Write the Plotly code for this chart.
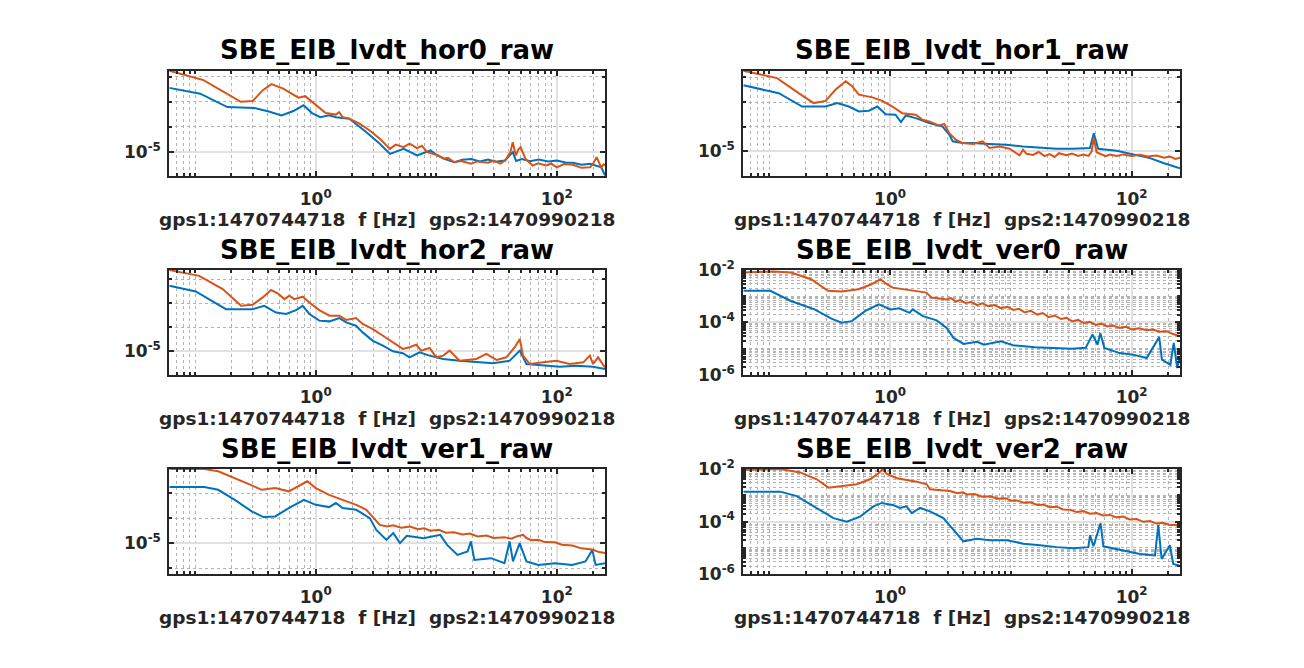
import plotly.graph_objects as go

BLUE = "#0072BD"
ORANGE = "#D95319"
FONT = "DejaVu Sans"

panel_titles = ["SBE_EIB_lvdt_hor0_raw", "SBE_EIB_lvdt_hor1_raw",
                "SBE_EIB_lvdt_hor2_raw", "SBE_EIB_lvdt_ver0_raw",
                "SBE_EIB_lvdt_ver1_raw", "SBE_EIB_lvdt_ver2_raw"]
xlabel_text = "gps1:1470744718\u00a0\u00a0f [Hz]\u00a0\u00a0gps2:1470990218"

x_tick_vals = [1, 100]
x_tick_text = ["10<sup>0</sup>", "10<sup>2</sup>"]
y_tick_vals_hor = [1e-5]
y_tick_text_hor = ["10<sup>-5</sup>"]
y_tick_vals_ver = [1e-6, 1e-4, 1e-2]
y_tick_text_ver = ["10<sup>-6</sup>", "10<sup>-4</sup>", "10<sup>-2</sup>"]

# ---------------- hor0 ----------------
hor0_f_blue = [0.061, 0.110, 0.185, 0.310, 0.401, 0.520, 0.652, 0.793, 0.931, 1.09, 1.29, 1.47, 1.90,
               2.62, 3.40, 4.13, 5.36, 6.93, 8.97, 10.2, 12.0, 14.1, 16.5, 19.5, 23.0, 26.9, 31.0,
               37.2, 43.1, 46.0, 51.3, 60.0, 70.8, 85.0, 100, 118, 136, 160, 189, 215, 234, 251]
hor0_psd_blue = [3.55e-3, 2.09e-3, 6.17e-4, 5.62e-4, 4.17e-4, 2.88e-4, 4.27e-4, 7.24e-4, 3.55e-4, 2.45e-4,
                 2.88e-4, 2.45e-4, 2.14e-4, 6.31e-5, 2.14e-5, 8.51e-6, 1.35e-5, 7.41e-6, 1.17e-5, 7.41e-6,
                 5.2e-6, 3.98e-6, 5.0e-6, 5.37e-6, 4.3e-6, 5.13e-6, 4.2e-6, 4.68e-6, 1.0e-5, 4.5e-6,
                 5.37e-6, 4.4e-6, 5.13e-6, 4.3e-6, 4.68e-6, 3.9e-6, 3.80e-6, 3.2e-6, 3.47e-6, 2.8e-6,
                 2.5e-6, 1.2e-6]
hor0_f_orange = [0.061, 0.117, 0.239, 0.300, 0.364, 0.429, 0.537, 0.719, 0.818, 0.931, 1.21, 1.47, 1.56,
                 1.67, 1.90, 2.31, 2.80, 3.40, 4.13, 4.6, 5.36, 6.0, 6.93, 7.6, 8.41, 10.2, 11.5, 12.5,
                 14.1, 16.0, 19.5, 22.0, 26.9, 30.0, 34.0, 37.2, 39.0, 41.2, 43.1, 45.7, 48.0, 50.1, 55.0,
                 63.1, 70.0, 81.3, 90.0, 100, 115, 136, 160, 189, 200, 214, 234, 245, 251]
hor0_psd_orange = [1.70e-2, 7.24e-3, 1.0e-3, 1.07e-3, 2.88e-3, 5.01e-3, 3.31e-3, 1.45e-3, 1.66e-3, 1.0e-3,
                   3.55e-4, 3.09e-4, 3.89e-4, 2.45e-4, 2.14e-4, 1.35e-4, 7.24e-5, 3.39e-5, 1.35e-5, 2.0e-5,
                   1.58e-5, 2.2e-5, 1.45e-5, 1.8e-5, 1.0e-5, 7.76e-6, 5.5e-6, 6.0e-6, 3.98e-6, 4.5e-6,
                   3.47e-6, 4.3e-6, 3.80e-6, 4.6e-6, 3.5e-6, 4.68e-6, 6.5e-6, 1.0e-5, 2.51e-5, 7.41e-6,
                   1.3e-5, 1.58e-5, 5.37e-6, 2.95e-6, 3.6e-6, 2.95e-6, 3.5e-6, 2.51e-6, 3.4e-6, 3.16e-6,
                   2.4e-6, 2.51e-6, 3.5e-6, 6.31e-6, 2.51e-6, 3.3e-6, 2.95e-6]

# ---------------- hor1 ----------------
hor1_f_blue = [0.061, 0.120, 0.187, 0.292, 0.365, 0.456, 0.552, 0.668, 0.785, 0.920, 1.11, 1.23, 1.35,
               1.63, 2.11, 2.72, 3.09, 3.30, 3.99, 4.83, 6.65, 9.14, 12.6, 17.3, 23.8, 32.7, 45.1, 48.6,
               52.8, 75.0, 103, 142, 183, 251]
hor1_psd_blue = [4.79e-3, 2.29e-3, 6.61e-4, 6.61e-4, 9.12e-4, 6.61e-4, 4.17e-4, 4.47e-4, 6.61e-4, 3.24e-4,
                 3.09e-4, 1.55e-4, 2.88e-4, 2.24e-4, 1.41e-4, 1.02e-4, 4.79e-5, 2.57e-5, 2.19e-5, 2.19e-5,
                 2.0e-5, 1.86e-5, 1.58e-5, 1.45e-5, 1.29e-5, 1.29e-5, 1.38e-5, 5.50e-5, 1.29e-5, 1.07e-5,
                 7.76e-6, 5.37e-6, 3.39e-6, 2.09e-6]
hor1_f_orange = [0.061, 0.116, 0.175, 0.233, 0.292, 0.353, 0.429, 0.486, 0.552, 0.713, 0.863, 1.045, 1.26,
                 1.44, 1.63, 1.86, 2.11, 2.55, 2.81, 3.09, 3.52, 3.99, 4.83, 5.85, 6.65, 8.05, 9.75, 11.8,
                 12.6, 13.5, 15.2, 17.0, 19.0, 20.9, 23.0, 25.0, 28.8, 32.0, 36.0, 39.8, 44.0, 46.6, 48.6,
                 51.2, 56.0, 61.0, 66.1, 75.0, 85.1, 100, 117, 135, 161, 185, 208, 230, 251]
hor1_psd_orange = [1.86e-2, 9.33e-3, 2.29e-3, 9.12e-4, 1.12e-3, 3.16e-3, 6.92e-3, 4.37e-3, 2.0e-3, 1.55e-3,
                   1.12e-3, 6.61e-4, 3.55e-4, 3.24e-4, 3.09e-4, 1.91e-4, 1.66e-4, 1.12e-4, 1.29e-4, 5.50e-5,
                   2.95e-5, 2.19e-5, 2.0e-5, 2.57e-5, 1.38e-5, 1.58e-5, 1.29e-5, 6.92e-6, 1.17e-5, 8.0e-6,
                   7.24e-6, 9.5e-6, 6.5e-6, 7.76e-6, 6.0e-6, 8.5e-6, 7.0e-6, 8.2e-6, 6.6e-6, 7.5e-6,
                   6.6e-6, 1.0e-5, 3.47e-5, 9.33e-6, 7.6e-6, 6.4e-6, 7.5e-6, 6.5e-6, 7.6e-6, 6.5e-6,
                   7.4e-6, 6.2e-6, 6.8e-6, 5.6e-6, 6.2e-6, 5.0e-6, 5.6e-6]

# ---------------- hor2 ----------------
hor2_f_blue = [0.061, 0.101, 0.180, 0.299, 0.374, 0.468, 0.566, 0.687, 0.780, 0.885, 1.07, 1.30, 1.57,
               1.79, 2.16, 2.45, 2.98, 3.61, 4.37, 5.28, 6.0, 7.26, 8.81, 11.4, 15.6, 21.5, 29.6, 40.7,
               49.3, 56.0, 76.9, 106, 146, 200, 251]
hor2_psd_blue = [5.50e-3, 3.16e-3, 5.75e-4, 5.75e-4, 7.94e-4, 4.17e-4, 3.63e-4, 5.25e-4, 7.94e-4, 3.63e-4,
                 1.91e-4, 1.78e-4, 2.45e-4, 1.62e-4, 1.17e-4, 6.17e-5, 2.75e-5, 1.74e-5, 1.0e-5, 8.32e-6,
                 5.62e-6, 9.12e-6, 6.61e-6, 4.79e-6, 4.07e-6, 3.47e-6, 3.16e-6, 4.07e-6, 1.07e-5, 2.95e-6,
                 2.51e-6, 2.29e-6, 2.51e-6, 2.29e-6, 1.82e-6]
hor2_f_orange = [0.061, 0.108, 0.169, 0.240, 0.299, 0.363, 0.426, 0.483, 0.550, 0.604, 0.665, 0.780, 0.885,
                 1.07, 1.30, 1.57, 1.79, 2.16, 2.45, 2.98, 3.61, 4.37, 5.28, 6.0, 6.82, 7.50, 8.81, 10.0,
                 11.4, 12.9, 15.6, 21.5, 26.0, 31.6, 38.2, 44.8, 49.3, 52.5, 59.7, 76.9, 99.3, 128, 166,
                 188, 200, 220, 251]
hor2_psd_orange = [2.45e-2, 1.41e-2, 3.98e-3, 7.94e-4, 8.71e-4, 1.78e-3, 3.63e-3, 2.63e-3, 1.51e-3, 2.09e-3,
                   1.51e-3, 1.91e-3, 1.10e-3, 5.25e-4, 3.09e-4, 3.09e-4, 2.04e-4, 2.45e-4, 1.38e-4, 8.51e-5,
                   4.47e-5, 2.34e-5, 1.26e-5, 1.48e-5, 1.91e-5, 1.07e-5, 1.38e-5, 5.62e-6, 6.61e-6, 1.07e-5,
                   4.07e-6, 4.79e-6, 7.76e-6, 4.37e-6, 5.62e-6, 1.48e-5, 3.24e-5, 6.61e-6, 2.95e-6, 3.47e-6,
                   4.07e-6, 2.95e-6, 3.47e-6, 6.61e-6, 2.95e-6, 5.62e-6, 2.14e-6]

# ---------------- ver0 ----------------
ver0_f_blue = [0.061, 0.102, 0.151, 0.237, 0.327, 0.397, 0.482, 0.624, 0.807, 1.01, 1.19, 1.45, 1.54,
               1.87, 2.43, 2.94, 3.35, 4.06, 5.26, 5.98, 8.28, 10.4, 15.8, 21.8, 32.1, 41.6, 47.4, 52.2,
               55.0, 59.4, 79.4, 103, 133, 169, 178, 209, 223, 238, 251]
ver0_psd_blue = [1.62e-3, 1.62e-3, 6.61e-4, 3.16e-4, 1.41e-4, 9.77e-5, 1.12e-4, 2.75e-4, 4.90e-4, 3.16e-4,
                 3.47e-4, 2.34e-4, 3.16e-4, 1.74e-4, 1.20e-4, 6.17e-5, 2.57e-5, 1.51e-5, 1.82e-5, 1.41e-5,
                 1.91e-5, 1.35e-5, 1.12e-5, 1.07e-5, 1.0e-5, 1.07e-5, 3.47e-5, 1.41e-5, 3.98e-5, 1.07e-5,
                 6.76e-6, 5.89e-6, 4.37e-6, 2.75e-5, 3.80e-6, 2.40e-6, 1.66e-5, 1.82e-6, 5.13e-6]
ver0_f_orange = [0.061, 0.109, 0.151, 0.222, 0.306, 0.397, 0.548, 0.687, 0.834, 0.920, 1.05, 1.45, 2.0,
                 2.20, 2.94, 3.2, 3.5, 3.81, 4.2, 4.7, 5.26, 5.8, 6.5, 7.3, 8.28, 9.3, 10.5, 11.7, 13.0,
                 14.6, 16.5, 18.4, 20.5, 23.0, 26.0, 29.0, 32.1, 36.0, 40.0, 45.0, 50.6, 56.0, 63.0, 70.0,
                 79.4, 90.0, 100, 115, 133, 150, 170, 196, 220, 251]
ver0_psd_orange = [8.13e-3, 8.91e-3, 8.13e-3, 4.47e-3, 1.62e-3, 1.51e-3, 1.86e-3, 2.75e-3, 4.47e-3, 3.09e-3,
                   2.14e-3, 1.70e-3, 1.38e-3, 8.91e-4, 7.59e-4, 8.5e-4, 6.3e-4, 7.2e-4, 5.6e-4, 6.0e-4,
                   4.6e-4, 5.4e-4, 4.2e-4, 4.6e-4, 3.5e-4, 4.0e-4, 3.0e-4, 3.3e-4, 2.4e-4, 2.8e-4,
                   2.0e-4, 2.3e-4, 1.6e-4, 1.85e-4, 1.35e-4, 1.5e-4, 1.1e-4, 1.25e-4, 9.5e-5, 1.05e-4,
                   8.0e-5, 9.0e-5, 7.0e-5, 7.6e-5, 6.2e-5, 6.8e-5, 5.4e-5, 6.0e-5, 5.0e-5, 5.4e-5,
                   4.4e-5, 4.6e-5, 3.6e-5, 2.95e-5]

# ---------------- ver1 ----------------
ver1_f_blue = [0.061, 0.119, 0.155, 0.213, 0.294, 0.368, 0.461, 0.597, 0.798, 1.0, 1.29, 1.47, 1.67,
               2.17, 2.81, 3.18, 3.86, 4.40, 5.0, 5.69, 7.85, 10.8, 12.3, 15.0, 18.2, 19.4, 20.7, 28.5,
               36.8, 40.6, 43.3, 49.2, 56.0, 70.1, 96.8, 134, 173, 197, 210, 251]
ver1_psd_blue = [1.74e-3, 1.74e-3, 1.35e-3, 5.37e-4, 1.86e-4, 1.10e-4, 1.17e-4, 2.51e-4, 5.37e-4, 3.39e-4,
                 2.75e-4, 3.98e-4, 2.51e-4, 2.14e-4, 1.0e-4, 3.39e-5, 1.35e-5, 2.51e-5, 1.0e-5, 1.95e-5,
                 1.58e-5, 2.14e-5, 8.51e-6, 3.39e-6, 4.68e-6, 1.17e-5, 2.14e-6, 2.51e-6, 1.58e-6, 1.17e-5,
                 1.86e-6, 1.0e-5, 1.86e-6, 1.35e-6, 1.58e-6, 1.35e-6, 1.86e-6, 5.37e-6, 1.35e-6, 1.58e-6]
ver1_f_orange = [0.061, 0.119, 0.155, 0.213, 0.276, 0.356, 0.461, 0.597, 0.724, 0.851, 1.0, 1.29, 1.67,
                 2.17, 2.63, 2.99, 3.40, 3.9, 4.40, 5.1, 6.07, 7.0, 8.0, 8.93, 10.5, 12.0, 14.0, 16.5,
                 19.0, 22.0, 26.0, 30.0, 36.8, 42.0, 47.0, 52.5, 56.0, 61.7, 70.0, 80.0, 96.8, 110, 134,
                 160, 197, 225, 251]
ver1_psd_orange = [9.12e-3, 9.12e-3, 7.41e-3, 3.98e-3, 2.34e-3, 1.35e-3, 1.58e-3, 1.17e-3, 1.86e-3, 2.95e-3,
                   1.58e-3, 8.51e-4, 5.37e-4, 3.39e-4, 2.14e-4, 1.10e-4, 5.37e-5, 4.6e-5, 5.2e-5, 4.1e-5,
                   4.6e-5, 3.6e-5, 3.9e-5, 3.1e-5, 3.4e-5, 2.6e-5, 2.7e-5, 2.2e-5, 2.4e-5, 1.85e-5,
                   2.0e-5, 1.6e-5, 1.7e-5, 1.5e-5, 1.9e-5, 2.14e-5, 1.6e-5, 1.3e-5, 1.35e-5, 1.1e-5,
                   1.08e-5, 8.6e-6, 8.0e-6, 6.2e-6, 5.6e-6, 4.4e-6, 4.0e-6]

# ---------------- ver2 ----------------
ver2_f_blue = [0.061, 0.123, 0.169, 0.247, 0.340, 0.438, 0.565, 0.728, 0.853, 1.07, 1.21, 1.37, 1.51,
               1.77, 2.14, 2.76, 3.34, 4.05, 5.21, 6.73, 9.25, 12.7, 17.4, 23.9, 32.9, 43.8, 45.2, 48.2,
               55.3, 58.3, 85.3, 117, 156, 166, 177, 207, 221, 251]
ver2_psd_blue = [1.38e-3, 1.38e-3, 9.33e-4, 3.31e-4, 1.35e-4, 1.0e-4, 1.55e-4, 3.80e-4, 5.13e-4, 4.17e-4,
                 3.31e-4, 3.80e-4, 2.09e-4, 3.31e-4, 2.45e-4, 1.35e-4, 4.79e-5, 1.78e-5, 2.24e-5, 1.95e-5,
                 1.95e-5, 1.45e-5, 1.26e-5, 1.07e-5, 9.77e-6, 1.07e-5, 3.02e-5, 1.15e-5, 8.71e-5, 1.15e-5,
                 7.94e-6, 5.89e-6, 5.13e-6, 7.41e-5, 3.80e-6, 1.26e-5, 2.45e-6, 2.09e-6]
ver2_f_orange = [0.061, 0.123, 0.180, 0.247, 0.309, 0.411, 0.530, 0.682, 0.800, 0.869, 0.938, 1.14, 1.66,
                 2.01, 2.14, 3.14, 3.6, 4.0, 4.31, 5.0, 5.8, 6.73, 7.8, 9.0, 10.0, 11.2, 12.8, 14.5, 16.5,
                 18.6, 21.0, 24.0, 27.0, 30.9, 35.0, 40.0, 45.0, 51.3, 58.0, 66.0, 75.0, 85.3, 96.0, 110,
                 125, 142, 160, 180, 207, 230, 251]
ver2_psd_orange = [9.12e-3, 1.0e-2, 7.41e-3, 4.07e-3, 1.95e-3, 2.24e-3, 2.63e-3, 4.07e-3, 6.76e-3, 1.0e-2,
                   6.46e-3, 4.47e-3, 3.31e-3, 2.63e-3, 1.70e-3, 1.45e-3, 1.2e-3, 1.3e-3, 1.08e-3, 1.12e-3,
                   8.8e-4, 9.2e-4, 7.4e-4, 7.8e-4, 6.2e-4, 6.4e-4, 5.2e-4, 5.4e-4, 4.3e-4, 4.4e-4,
                   3.5e-4, 3.7e-4, 2.9e-4, 2.8e-4, 2.3e-4, 2.5e-4, 2.0e-4, 2.1e-4, 1.7e-4, 1.8e-4,
                   1.45e-4, 1.55e-4, 1.2e-4, 1.25e-4, 9.8e-5, 1.05e-4, 8.4e-5, 9.0e-5, 7.4e-5, 7.6e-5,
                   6.0e-5]

# panel layout: (title, blue f, blue psd, orange f, orange psd, y range (log10), kind)
panels = [
    (panel_titles[0], hor0_f_blue, hor0_psd_blue, hor0_f_orange, hor0_psd_orange, [-5.96, -1.77], "hor"),
    (panel_titles[1], hor1_f_blue, hor1_psd_blue, hor1_f_orange, hor1_psd_orange, [-6.01, -1.73], "hor"),
    (panel_titles[2], hor2_f_blue, hor2_psd_blue, hor2_f_orange, hor2_psd_orange, [-5.98, -1.61], "hor"),
    (panel_titles[3], ver0_f_blue, ver0_psd_blue, ver0_f_orange, ver0_psd_orange, [-6.0, -2.0], "ver"),
    (panel_titles[4], ver1_f_blue, ver1_psd_blue, ver1_f_orange, ver1_psd_orange, [-6.24, -2.04], "hor"),
    (panel_titles[5], ver2_f_blue, ver2_psd_blue, ver2_f_orange, ver2_psd_orange, [-6.0, -2.0], "ver"),
]

W, H = 1304, 668


def py(v):
    # vertical pixel placement, compensated for the capture's vertical fit
    return (v - 10.1) / 0.970


col_px = [(169.3, 605.0), (743.3, 1180.0)]
row_px = [(py(69.0), py(175.0)), (py(269.0), py(374.0)), (py(468.5), py(574.0))]
title_px = [py(48.5), py(248.5), py(448.0)]
xlabel_px = [py(218.5), py(417.5), py(617.5)]

x_minor = [m * 10.0 ** k for k in range(-2, 3) for m in range(1, 10)
           if not (m == 1 and k in (0, 2))]
y_minor_ver = [m * 10.0 ** k for k in range(-7, -1) for m in range(1, 10)
               if not (m == 1 and k in (-6, -4, -2))]
y_minor_hor = [10.0 ** k for k in (-7, -6, -4, -3, -2, -1)]

AX = "#262626"
MAJOR_GRID = "#e1e1e1"
MINOR_GRID = "#b3b3b3"

fig = go.Figure()
annotations = []
for i, (title, fb, pb, fo, po, yr, kind) in enumerate(panels):
    r, c = divmod(i, 2)
    n = i + 1
    xa = "x" if n == 1 else f"x{n}"
    ya = "y" if n == 1 else f"y{n}"
    fig.add_trace(go.Scatter(x=fb, y=pb, mode="lines", line=dict(color=BLUE, width=2),
                             xaxis=xa, yaxis=ya, showlegend=False))
    fig.add_trace(go.Scatter(x=fo, y=po, mode="lines", line=dict(color=ORANGE, width=2),
                             xaxis=xa, yaxis=ya, showlegend=False))
    x0, x1 = col_px[c]
    y0, y1 = row_px[r]
    xdom = [x0 / W, x1 / W]
    ydom = [1 - y1 / H, 1 - y0 / H]
    common = dict(showline=True, linecolor=AX, linewidth=2, mirror="ticks",
                  ticks="inside", ticklen=5, tickwidth=1.5, tickcolor=AX,
                  showgrid=True, gridcolor=MAJOR_GRID, gridwidth=1.5,
                  zeroline=False, tickmode="array",
                  tickfont=dict(family=FONT, size=17, color=AX, weight="bold"))
    xkey = "xaxis" if n == 1 else f"xaxis{n}"
    ykey = "yaxis" if n == 1 else f"yaxis{n}"
    fig.update_layout(**{
        xkey: dict(common, type="log", domain=xdom, range=[-1.215, 2.40], anchor=ya,
                   tickvals=x_tick_vals, ticktext=x_tick_text, ticklabelstandoff=6,
                   minor=dict(tickmode="array", tickvals=x_minor, ticks="inside", ticklen=3,
                              tickcolor=AX, showgrid=True, gridcolor=MINOR_GRID,
                              griddash="dot", gridwidth=1)),
        ykey: dict(common, type="log", domain=ydom, range=yr, anchor=xa,
                   tickvals=y_tick_vals_ver if kind == "ver" else y_tick_vals_hor,
                   ticktext=y_tick_text_ver if kind == "ver" else y_tick_text_hor,
                   ticklabelstandoff=3,
                   minor=dict(tickmode="array",
                              tickvals=y_minor_ver if kind == "ver" else y_minor_hor,
                              ticks="inside", ticklen=3, tickcolor=AX, showgrid=True,
                              gridcolor=MINOR_GRID, griddash="dot", gridwidth=1)),
    })
    cx = (x0 + x1) / 2 / W
    annotations.append(dict(text=title, x=cx, y=1 - title_px[r] / H, xref="paper", yref="paper",
                            xanchor="center", yanchor="middle", showarrow=False,
                            font=dict(family=FONT, size=26, color="#000000", weight="bold")))
    annotations.append(dict(text=xlabel_text, x=cx, y=1 - xlabel_px[r] / H, xref="paper",
                            yref="paper", xanchor="center", yanchor="middle", showarrow=False,
                            font=dict(family=FONT, size=18.5, color=AX, weight="bold")))

fig.update_layout(width=W, height=H, margin=dict(l=0, r=0, t=0, b=0),
                  paper_bgcolor="white", plot_bgcolor="white",
                  annotations=annotations, showlegend=False)

page_fix = (
    "document.documentElement.style.margin='0';"
    "document.documentElement.style.overflow='hidden';"
    "document.body.style.margin='0';"
    "document.body.style.overflow='hidden';"
    "var gd=document.querySelector('.plotly-graph-div');"
    "gd.style.position='fixed';gd.style.left='0px';gd.style.top='0px';"
)
fig.write_html("out.html", config={"displayModeBar": False, "responsive": False},
               post_script=page_fix)
